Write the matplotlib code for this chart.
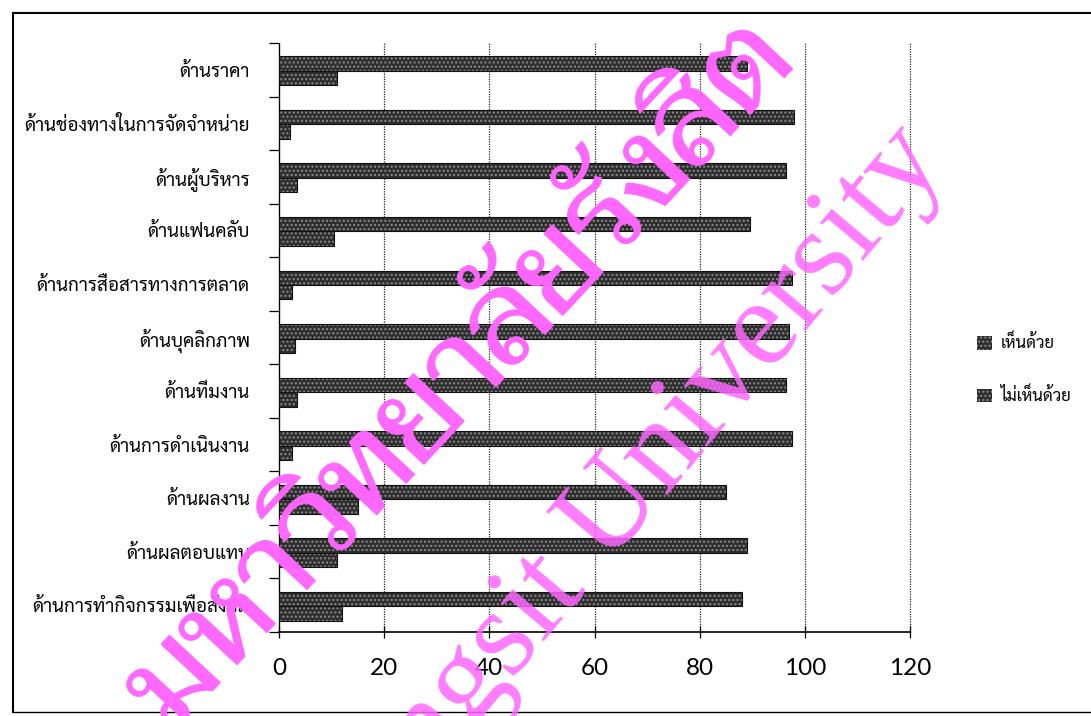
import numpy as np
import matplotlib
matplotlib.use("Agg")
import matplotlib.pyplot as plt
from matplotlib import font_manager as fm
from matplotlib import patheffects as pe

categories = [
    "ด้านราคา",
    "ด้านช่องทางในการจัดจำหน่าย",
    "ด้านผู้บริหาร",
    "ด้านแฟนคลับ",
    "ด้านการสื่อสารทางการตลาด",
    "ด้านบุคลิกภาพ",
    "ด้านทีมงาน",
    "ด้านการดำเนินงาน",
    "ด้านผลงาน",
    "ด้านผลตอบแทน",
    "ด้านการทำกิจกรรมเพื่อสังคม",
]
agree = [89, 98, 96.5, 89.5, 97.5, 97, 96.5, 97.5, 85, 89, 88]
disagree = [11, 2, 3.5, 10.5, 2.5, 3, 3.5, 2.5, 15, 11, 12]
series_labels = ["เห็นด้วย", "ไม่เห็นด้วย"]
x_ticks = [0, 20, 40, 60, 80, 100, 120]

installed = {f.name for f in fm.fontManager.ttflist}


def pick(*names):
    for n in names:
        if n in installed:
            return n
    return "DejaVu Sans"


label_font = [pick("Sarabun", "IBM Plex Sans Thai Looped", "Noto Sans Thai Looped", "FreeSerif"), "DejaVu Sans"]
mark_font = [pick("Taviraj", "Noto Serif Thai", "Trirong", "FreeSerif"), "DejaVu Sans"]

fig = plt.figure(figsize=(10.91, 7.16), dpi=100)
ax = fig.add_axes([279 / 1091, 1 - 632 / 716, 631 / 1091, 589 / 716])

y = np.arange(len(categories))
h = 0.27
for vals, off, lab in [(agree, -h / 2 + 0.02, series_labels[0]),
                       (disagree, h / 2 + 0.02, series_labels[1])]:
    ax.barh(y + off, vals, height=h, color="#2e2e2e", edgecolor="#8c8c8c",
            hatch="....", linewidth=0, zorder=3, label=lab)
    ax.barh(y + off, vals, height=h, fill=False, edgecolor="#111111",
            linewidth=0.8, zorder=4)

ax.set_ylim(len(categories) - 0.5, -0.5)
ax.set_xlim(0, 120)
ax.set_xticks(x_ticks)
ax.set_xticklabels([str(t) for t in x_ticks], fontfamily="Lato", fontsize=17.5)
ax.tick_params(axis="x", direction="inout", length=9, width=0.9, pad=14)

ax.set_yticks(y)
ax.set_yticklabels(categories, fontsize=13.5)
for t in ax.get_yticklabels():
    t.set_fontfamily(label_font)
ax.tick_params(axis="y", length=0, pad=21)
ax.set_yticks(np.arange(len(categories) + 1) - 0.5, minor=True)
ax.tick_params(axis="y", which="minor", direction="out", length=7, width=0.9)

ax.grid(axis="x", color="#222222", linestyle=(0, (1, 1)), linewidth=0.9, zorder=0)
for gl in ax.get_xgridlines():
    gl.set_clip_on(False)
for s in ["top", "right"]:
    ax.spines[s].set_visible(False)
ax.spines["left"].set_linewidth(0.9)
ax.spines["bottom"].set_linewidth(1.2)

fig.legend(loc="center left", bbox_to_anchor=(962 / 1091, 1 - 370 / 716),
           frameon=False, prop={"family": label_font, "size": 12},
           handlelength=0.9, handleheight=0.9, labelspacing=2.1, handletextpad=0.5)

# chart frame
fig.add_artist(plt.Line2D([13 / 1091, 1.0], [1 - 13 / 716] * 2, color="black", lw=1.5))
fig.add_artist(plt.Line2D([13 / 1091] * 2, [1 - 13 / 716, 1 - 712 / 716], color="black", lw=1.5))
fig.add_artist(plt.Line2D([13 / 1091, 1.0], [1 - 712 / 716] * 2, color="black", lw=1.0))

# watermark
fig.text(462 / 1091, 1 - 378 / 716, "มหาวิทยาลัยรังสิต", rotation=47, rotation_mode="anchor",
         ha="center", va="center", fontsize=90, fontweight="normal", color="#ff66ff",
         alpha=0.85, family=mark_font, zorder=10,
         path_effects=[pe.withStroke(linewidth=1.2, foreground="#ff66ff")])
fig.text(645 / 1091, 1 - 522 / 716, "Rangsit University", rotation=50, rotation_mode="anchor",
         ha="center", va="baseline", fontsize=90, color="#ff66ff", alpha=0.85,
         family="Liberation Serif", zorder=10)

fig.savefig("out.png", dpi=100)
